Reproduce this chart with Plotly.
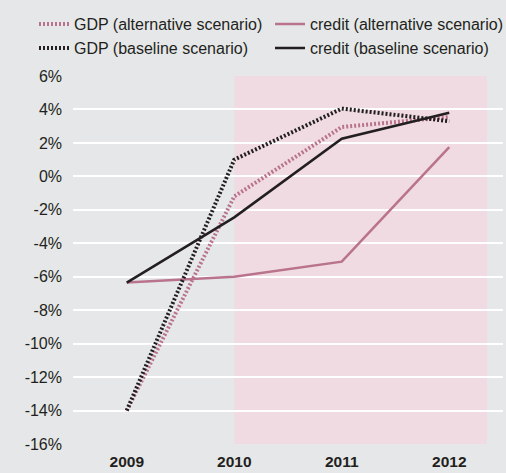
import plotly.graph_objects as go

years = ["2009", "2010", "2011", "2012"]
gdp_alt = [-14.0, -1.2, 2.95, 3.55]
credit_alt = [-6.35, -6.0, -5.1, 1.75]
gdp_base = [-14.0, 1.0, 4.05, 3.3]
credit_base = [-6.35, -2.45, 2.25, 3.8]
y_ticks = [6, 4, 2, 0, -2, -4, -6, -8, -10, -12, -14, -16]

PINK = "#b9738c"
BLACK = "#231f20"
FONT = "Liberation Sans, Arial, sans-serif"

fig = go.Figure()
fig.add_trace(go.Scatter(x=years, y=gdp_alt, mode="lines", name="GDP (alternative scenario)",
                         line=dict(color=PINK, width=4, dash="2px,2px")))
fig.add_trace(go.Scatter(x=years, y=credit_alt, mode="lines", name="credit (alternative scenario)",
                         line=dict(color=PINK, width=2.5)))
fig.add_trace(go.Scatter(x=years, y=gdp_base, mode="lines", name="GDP (baseline scenario)",
                         line=dict(color=BLACK, width=4, dash="2px,2px")))
fig.add_trace(go.Scatter(x=years, y=credit_base, mode="lines", name="credit (baseline scenario)",
                         line=dict(color=BLACK, width=2.5)))

fig.add_shape(type="rect", xref="x", yref="y", x0=1, x1=3.35, y0=-16, y1=6,
              fillcolor="#efdbe1", line=dict(width=0), layer="below")

fig.update_layout(
    width=506, height=473,
    margin=dict(l=73, r=3, t=76, b=25),
    paper_bgcolor="#e6e7e8", plot_bgcolor="#e6e7e8",
    font=dict(family=FONT, size=16, color=BLACK),
    showlegend=True,
    legend=dict(orientation="h", xref="paper", yref="paper", x=-0.088, y=1.187,
                xanchor="left", yanchor="top", entrywidth=191, entrywidthmode="pixels",
                font=dict(size=16, color=BLACK), bgcolor="rgba(0,0,0,0)",
                tracegroupgap=0, itemwidth=30),
    xaxis=dict(type="category", range=[-0.5, 3.5], showgrid=False, zeroline=False,
               showline=False, ticks="outside", ticklen=3, tickcolor="rgba(0,0,0,0)",
               tickfont=dict(size=15.5, weight="bold", color=BLACK)),
    yaxis=dict(range=[-16, 6], tickvals=y_ticks, ticktext=[f"{v}%" for v in y_ticks],
               showgrid=True, gridcolor="#ffffff", gridwidth=1.5, zeroline=False,
               showline=False, ticks="", ticklabelstandoff=10,
               tickfont=dict(size=16, color=BLACK)),
)

fig.write_html("out.html", config={"displayModeBar": False},
               post_script="document.body.style.margin='0';document.body.style.background='#e6e7e8';")
